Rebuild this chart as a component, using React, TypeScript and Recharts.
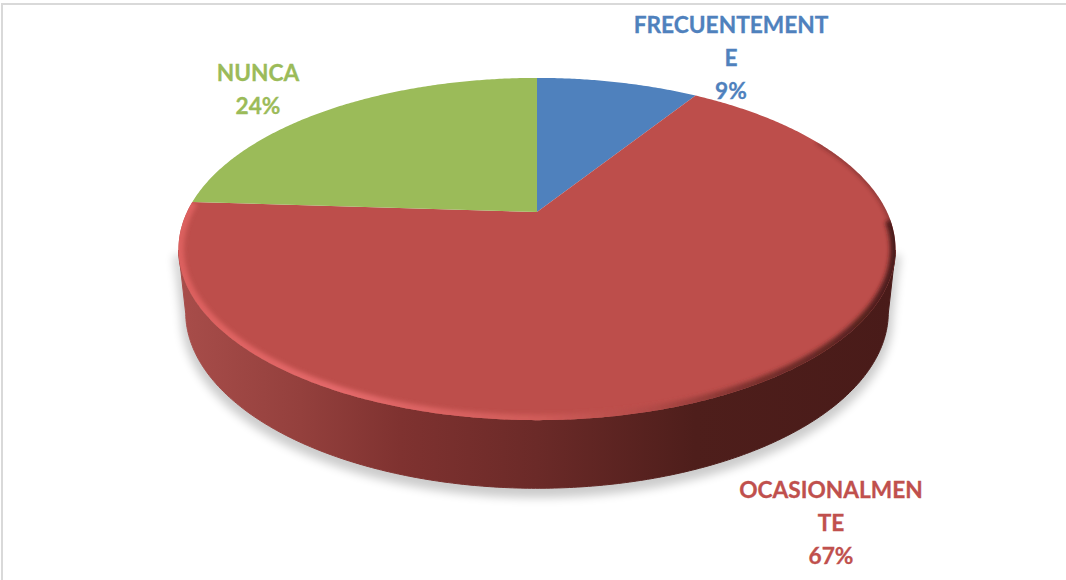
import React from 'react';
import { PieChart, Pie, Cell } from 'recharts';

const categories = ['FRECUENTEMENTE', 'OCASIONALMENTE', 'NUNCA'];
const values = [9, 67, 24];
const percentLabels = ['9%', '67%', '24%'];
const wrappedNames = [['FRECUENTEMENT', 'E'], ['OCASIONALMEN', 'TE'], ['NUNCA']];
const colors = ['#4f81bd', '#bd4e4b', '#9bbb59'];
const labelColors = ['#4f81bd', '#c0504d', '#9bbb59'];
const labelAnchors = [[731, 33], [831, 498], [258, 81]];

const chartData = categories.map((name, i) => ({ name, value: values[i] }));

const PERSPECTIVE = 0.2164;
const FLATTEN = 0.466;
const ELLIPSE_DROP = 37;

function project(cx: number, cy: number, r: number, deg: number) {
  const t = ((90 - deg) * Math.PI) / 180;
  const u = Math.sin(t);
  const v = -Math.cos(t);
  const w = 1 - PERSPECTIVE * v;
  return { x: cx + (r * u) / w, y: cy + (r * FLATTEN * v) / w };
}

function toBase(p: { x: number; y: number }, cx: number, cy: number) {
  const mid = cy + ELLIPSE_DROP;
  return { x: cx + (p.x - cx) * 0.98, y: mid + 63 + (p.y - mid) * 1.03 };
}

function pathOf(pts: { x: number; y: number }[]) {
  return pts.map((p, i) => `${i ? 'L' : 'M'}${p.x.toFixed(2)} ${p.y.toFixed(2)}`).join(' ');
}

function ProjectedSector(props: any) {
  const { cx, cy, outerRadius, startAngle, endAngle, fill, index } = props;
  const n = Math.max(8, Math.ceil(Math.abs(endAngle - startAngle) * 2));
  const arc = Array.from({ length: n + 1 }, (_, i) =>
    project(cx, cy, outerRadius, startAngle + ((endAngle - startAngle) * i) / n),
  );
  const face = `M${cx} ${cy} ${pathOf(arc).replace('M', 'L')} Z`;
  const mid = cy + ELLIPSE_DROP;
  const front = arc.filter((p) => p.y >= mid);
  const hasSide = front.length > 1;
  const base = front.map((p) => toBase(p, cx, cy));
  const side = hasSide ? `${pathOf(front)} ${pathOf([...base].reverse()).replace('M', 'L')} Z` : '';
  const rimMain = arc.filter((p) => p.y >= cy + 8 || p.x < cx);
  const rimUpper = arc.filter((p) => p.y < cy + 14 && p.y > cy - 70 && p.x > cx);
  const clipId = `face-clip-${index}`;
  const left = cx - outerRadius * 1.025;
  const right = cx + outerRadius * 1.025;
  return (
    <g>
      <defs>
        <linearGradient id={`side-${index}`} gradientUnits="userSpaceOnUse" x1={left} x2={right} y1="0" y2="0">
          <stop offset="0" stopColor="#a84d4a" />
          <stop offset="0.17" stopColor="#94403d" />
          <stop offset="0.31" stopColor="#7f3230" />
          <stop offset="0.5" stopColor="#6b2a28" />
          <stop offset="0.72" stopColor="#4e1e1b" />
          <stop offset="1" stopColor="#491b19" />
        </linearGradient>
        <linearGradient id={`rim-${index}`} gradientUnits="userSpaceOnUse" x1={left} x2={right} y1="0" y2="0">
          <stop offset="0" stopColor="#dc605e" />
          <stop offset="0.22" stopColor="#e4696a" />
          <stop offset="0.5" stopColor="#d05c59" />
          <stop offset="0.66" stopColor="#b24a47" />
          <stop offset="0.8" stopColor="#7a302d" />
          <stop offset="1" stopColor="#4a1c1a" />
        </linearGradient>
        <clipPath id={clipId}>
          <path d={face} />
        </clipPath>
        <filter id={`soft-${index}`} x="-10%" y="-10%" width="120%" height="120%">
          <feGaussianBlur stdDeviation="2.2" />
        </filter>
        <filter id={`shadow-${index}`} x="-10%" y="-20%" width="120%" height="140%">
          <feGaussianBlur stdDeviation="5" />
        </filter>
      </defs>
      {hasSide && (
        <>
          <path d={side} fill="#000" stroke="#000" strokeWidth={9} opacity={0.2} transform="translate(0 5)" filter={`url(#shadow-${index})`} />
          <path d={side} fill={`url(#side-${index})`} stroke={`url(#side-${index})`} strokeWidth={1} />
        </>
      )}
      <path d={face} fill={fill} stroke="none" />
      {hasSide && (
        <g clipPath={`url(#${clipId})`}>
          <path d={pathOf(rimMain)} fill="none" stroke={`url(#rim-${index})`} strokeWidth={11} filter={`url(#soft-${index})`} />
          <path d={pathOf(rimUpper)} fill="none" stroke="#5a2321" strokeWidth={3} opacity={0.65} filter={`url(#soft-${index})`} />
        </g>
      )}
    </g>
  );
}

function renderLabel(props: any) {
  const i = props.index;
  const [x, y] = labelAnchors[i];
  const lines = [...wrappedNames[i], percentLabels[i]];
  return (
    <text
      key={categories[i]}
      x={x}
      y={y}
      textAnchor="middle"
      fill={labelColors[i]}
      stroke={labelColors[i]}
      strokeWidth={0.3}
      style={{ fontFamily: 'Lato, sans-serif', fontWeight: 700, fontSize: 22.7 }}
    >
      {lines.map((line, k) => (
        <tspan key={k} x={x} y={y + k * 33}>
          {line}
        </tspan>
      ))}
    </text>
  );
}

export default function App() {
  return (
    <div style={{ position: 'absolute', left: 0, top: 0, width: 1066, height: 580, background: '#fff', overflow: 'hidden' }}>
      <div
        style={{
          position: 'absolute',
          left: 1,
          top: 3,
          width: 1066,
          height: 575,
          borderTop: '2px solid #d9d9d9',
          borderLeft: '2px solid #d9d9d9',
          borderBottom: '1px solid #ececec',
        }}
      />
      <div style={{ position: 'absolute', left: 0, top: 0 }}>
        <PieChart width={1066} height={580} margin={{ top: 0, right: 0, bottom: 0, left: 0 }}>
          <Pie
            data={chartData}
            dataKey="value"
            nameKey="name"
            cx={537}
            cy={212}
            innerRadius={0}
            outerRadius={350}
            startAngle={90}
            endAngle={-270}
            stroke="none"
            isAnimationActive={false}
            shape={ProjectedSector}
            label={renderLabel}
            labelLine={false}
          >
            {chartData.map((d, i) => (
              <Cell key={d.name} fill={colors[i]} />
            ))}
          </Pie>
        </PieChart>
      </div>
    </div>
  );
}
